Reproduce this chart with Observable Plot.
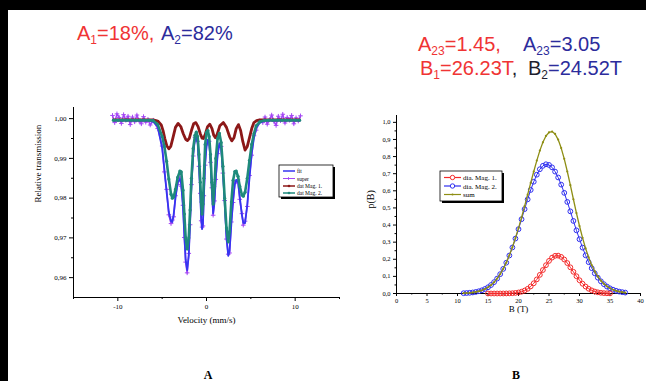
<!DOCTYPE html>
<html><head><meta charset="utf-8">
<script src="https://cdn.jsdelivr.net/npm/d3@7"></script>
<script src="https://cdn.jsdelivr.net/npm/@observablehq/plot@0.6"></script>
<style>
html,body{margin:0;padding:0;background:#fff;overflow:hidden;}
#wrap{position:relative;width:646px;height:381px;overflow:hidden;background:#fff;}
.abs{position:absolute;left:0;top:0;}
</style></head>
<body><div id="wrap">
<div id="plotA" class="abs"></div>
<div id="plotB" class="abs"></div>
<svg id="deco" class="abs" width="646" height="381" style="pointer-events:none"></svg>
</div>
<script>
// ---------- Panel A: Mössbauer spectrum ----------
const xTicksA = [-10, 0, 10];
const xMinorA = [-15, -5, 5, 15];
const yTicksA = [0.96, 0.97, 0.98, 0.99, 1.00];
const yMinorA = [0.965, 0.975, 0.985, 0.995];

// velocity grid shared by fit and dat Mag. 2
const velocity = [-10.5,-10,-9.5,-9,-8.5,-8,-7.5,-7,-6.5,
 -6.0,-5.5,-5.0,-4.75,-4.5,-4.25,-4.0,-3.85,-3.7,-3.5,-3.25,-3.0,-2.85,-2.65,-2.5,-2.35,-2.18,-2.0,-1.85,-1.7,-1.5,-1.3,-1.15,-1.0,-0.85,-0.7,-0.6,-0.5,-0.4,-0.3,-0.15,
 0.0,0.15,0.3,0.45,0.6,0.75,0.9,1.05,1.25,1.45,1.65,1.85,2.05,2.25,2.45,2.6,2.8,3.0,3.2,3.35,3.55,3.75,4.0,4.15,4.35,4.6,4.85,5.1,5.35,5.6,6.0,
 6.5,7,7.5,8,8.5,9,9.5,10,10.5];

const fitT = [0.9995,0.9995,0.9995,0.9995,0.9995,0.9995,0.9995,0.9995,0.9995,
 0.9992,0.9980,0.9925,0.9873,0.9815,0.9765,0.9742,0.9740,0.9760,0.9800,0.9840,0.9848,0.9836,0.9776,0.9708,0.9645,0.9619,0.9655,0.9740,0.9828,0.9912,0.9948,0.9954,0.9938,0.9886,0.9806,0.9749,0.9722,0.9736,0.9800,0.9889,
 0.9929,0.9947,0.9938,0.9896,0.9820,0.9762,0.9788,0.9853,0.9907,0.9938,0.9925,0.9869,0.9788,0.9703,0.9655,0.9667,0.9734,0.9795,0.9835,0.9846,0.9840,0.9803,0.9756,0.9738,0.9737,0.9784,0.9851,0.9913,0.9951,0.9977,0.9989,
 0.9995,0.9995,0.9995,0.9995,0.9995,0.9995,0.9995,0.9995,0.9995];

const mag2T = [0.9996,0.9996,0.9996,0.9996,0.9996,0.9996,0.9996,0.9996,0.9996,
 0.9995,0.9985,0.9955,0.9930,0.9893,0.9848,0.9810,0.9800,0.9803,0.9822,0.9852,0.9868,0.9866,0.9820,0.9760,0.9700,0.9672,0.9700,0.9770,0.9850,0.9925,0.9958,0.9966,0.9955,0.9910,0.9840,0.9790,0.9760,0.9785,0.9850,0.9935,
 0.9965,0.9970,0.9955,0.9910,0.9840,0.9785,0.9830,0.9900,0.9950,0.9963,0.9940,0.9880,0.9800,0.9725,0.9690,0.9715,0.9790,0.9845,0.9867,0.9868,0.9855,0.9830,0.9808,0.9805,0.9815,0.9850,0.9895,0.9935,0.9962,0.9982,0.9992,
 0.9995,0.9996,0.9996,0.9996,0.9996,0.9996,0.9996,0.9996,0.9996];

// measured points ("super")
const superVel = [-10.6,-10.35,-10.1,-9.85,-9.6,-9.35,-9.1,-8.85,-8.6,-8.35,-8.1,-7.85,-7.6,-7.35,-7.1,-6.85,-6.6,-6.35,
 -6.0,-5.5,-5.0,-4.75,-4.5,-4.25,-4.0,-3.85,-3.7,-3.5,-3.25,-3.0,-2.85,-2.65,-2.5,-2.35,-2.18,-2.0,-1.85,-1.7,-1.5,-1.3,-1.15,-1.0,-0.85,-0.7,-0.6,-0.5,-0.4,-0.3,-0.15,
 0.0,0.15,0.3,0.45,0.6,0.75,0.9,1.05,1.25,1.45,1.65,1.85,2.05,2.25,2.45,2.6,2.8,3.0,3.2,3.35,3.55,3.75,4.0,4.15,4.35,4.6,4.85,5.1,5.35,5.6,6.0,
 6.35,6.6,6.85,7.1,7.35,7.6,7.85,8.1,8.35,8.6,8.85,9.1,9.35,9.6,9.85,10.1,10.35,10.6];
const superT = [1.0008,0.9990,1.0012,1.0003,0.9988,1.0010,0.9996,1.0006,0.9985,1.0004,0.9992,1.0009,0.9994,0.9987,1.0005,0.9991,0.9998,0.9984,
 0.9996,0.9975,0.9931,0.9866,0.9822,0.9758,0.9736,0.9745,0.9753,0.9806,0.9834,0.9853,0.9830,0.9782,0.9701,0.9639,0.9612,0.9661,0.9733,0.9834,0.9906,0.9953,0.9949,0.9943,0.9880,0.9812,0.9743,0.9727,0.9730,0.9806,0.9883,
 0.9934,0.9941,0.9943,0.9890,0.9826,0.9757,0.9793,0.9847,0.9912,0.9933,0.9930,0.9863,0.9794,0.9697,0.9659,0.9662,0.9740,0.9789,0.9840,0.9841,0.9846,0.9797,0.9761,0.9732,0.9742,0.9779,0.9857,0.9908,0.9957,0.9971,0.9994,
 0.9990,1.0004,0.9986,0.9997,1.0009,0.9993,0.9983,1.0006,0.9995,1.0011,0.9989,1.0003,0.9996,1.0008,0.9987,1.0002,0.9994,1.0007];

// dat Mag. 1
const mag1Vel = [-10.5,-10,-9.5,-9,-8.5,-8,-7.5,-7,-6.5,
 -6.0,-5.5,-5.1,-4.9,-4.7,-4.48,-4.25,-4.03,-3.78,-3.5,-3.2,-2.9,-2.62,-2.35,-2.15,-1.95,-1.7,-1.45,-1.2,-0.95,-0.7,-0.5,-0.35,-0.15,
 0.12,0.37,0.62,0.82,1.0,1.2,1.5,1.9,2.25,2.6,2.85,3.1,3.35,3.6,3.85,4.1,4.35,4.6,4.85,5.1,5.35,5.65,6.0,
 6.5,7,7.5,8,8.5,9,9.5,10,10.5];
const mag1T = [0.9997,0.9997,0.9997,0.9997,0.9997,0.9997,0.9997,0.9997,0.9997,
 0.9997,0.9994,0.9984,0.9970,0.9950,0.9932,0.9924,0.9930,0.9952,0.9978,0.9988,0.9980,0.9962,0.9948,0.9945,0.9950,0.9970,0.9987,0.9990,0.9980,0.9962,0.9951,0.9950,0.9960,
 0.9980,0.9986,0.9975,0.9958,0.9952,0.9960,0.9982,0.9990,0.9978,0.9955,0.9944,0.9952,0.9975,0.9985,0.9970,0.9942,0.9921,0.9930,0.9952,0.9975,0.9990,0.9995,0.9997,
 0.9997,0.9997,0.9997,0.9997,0.9997,0.9997,0.9997,0.9997,0.9997];

// ---------- Panel B: field distributions ----------
const xTicksB = [0, 5, 10, 15, 20, 25, 30, 35, 40];
const xMinorB = [2.5, 7.5, 12.5, 17.5, 22.5, 27.5, 32.5, 37.5];
const yTicksB = [0, 0.1, 0.2, 0.3, 0.4, 0.5, 0.6, 0.7, 0.8, 0.9, 1.0];
const yMinorB = [0.05, 0.15, 0.25, 0.35, 0.45, 0.55, 0.65, 0.75, 0.85, 0.95];

const fieldB = [11,11.5,12,12.5,13,13.5,14,14.5,15,15.5,16,16.5,17,17.5,18,18.5,19,19.5,20,20.5,21,21.5,22,22.5,23,23.5,24,24.5,
 25,25.5,26,26.5,27,27.5,28,28.5,29,29.5,30,30.5,31,31.5,32,32.5,33,33.5,34,34.5,35,35.5,36,36.5,37,37.5];
const pMag2 = [0.0017,0.0027,0.0041,0.0061,0.0090,0.0131,0.0187,0.0264,0.0364,0.0495,0.0663,0.0872,0.113,0.1438,0.180,0.222,0.269,0.321,0.376,0.434,0.493,0.550,0.605,0.653,0.694,0.726,0.746,0.755,
 0.751,0.737,0.712,0.678,0.636,0.588,0.535,0.480,0.424,0.369,0.317,0.268,0.223,0.183,0.148,0.118,0.0925,0.0715,0.0544,0.0408,0.0302,0.022,0.0158,0.0112,0.0078,0.0053];
const pSum = [0.0017,0.0027,0.0041,0.0061,0.0090,0.0131,0.0187,0.0264,0.0364,0.0495,0.0663,0.0872,0.1131,0.1440,0.1804,0.2229,0.2707,0.3243,0.3820,0.4444,0.5103,0.5773,0.6463,0.7127,0.7765,0.8348,0.8832,0.9204,
 0.9414,0.9465,0.9322,0.8993,0.8498,0.7867,0.7128,0.6330,0.5507,0.4700,0.3945,0.3251,0.2636,0.2107,0.1662,0.1295,0.0995,0.0756,0.0567,0.0421,0.0309,0.0220,0.0158,0.0112,0.0078,0.0053];
const fieldB1 = [15,15.5,16,16.5,17,17.5,18,18.5,19,19.5,20,20.5,21,21.5,22,22.5,23,23.5,24,24.5,25,25.5,26,26.5,27,27.5,28,28.5,29,29.5,30,30.5,31,31.5,32,32.5,33,33.5,34,34.5,35];
const pMag1 = [0,0,0,0,0.0001,0.0002,0.0004,0.0009,0.0017,0.0033,0.0060,0.0104,0.0173,0.0273,0.0413,0.0597,0.0825,0.1088,0.1372,0.1654,0.1904,0.2095,0.2202,0.2213,0.2138,0.1987,0.1778,0.153,0.1267,0.101,0.0775,0.0571,0.0406,0.0277,0.0182,0.0115,0.0070,0.0041,0.0023,0.0013,0.0007];

// colours
const cFit = "#3535f0", cSuper = "#a447f5", cMag1 = "#8c1818", cMag2 = "#1f8a7c";
const cRed = "#f42a2a", cBlue = "#2f2ff0", cSum = "#8e8e14";

const rows = (xs, ys) => xs.map((x, i) => ({x, y: ys[i]}));
const fmt = (d, n) => d.toFixed(n).replace(".", ",");

const plotA = Plot.plot({
  width: 646, height: 381,
  marginLeft: 73, marginRight: 307, marginTop: 107, marginBottom: 84,
  style: {background: "transparent", fontFamily: "Liberation Serif, serif", fontSize: "7px", color: "#000"},
  x: {domain: [-15, 15]},
  y: {domain: [0.955, 1.0028]},
  marks: [
    Plot.ruleX([-15], {stroke: "#000", strokeWidth: 1}),
    Plot.ruleY([0.955], {stroke: "#000", strokeWidth: 1}),
    Plot.axisX({ticks: xTicksA, tickSize: 4, tickPadding: 3, tickFormat: d => String(d), label: null}),
    Plot.axisX({ticks: xMinorA, tickSize: 2, tickFormat: () => "", label: null}),
    Plot.axisY({ticks: yTicksA, tickSize: 4, tickPadding: 3, tickFormat: d => fmt(d, 2), label: null}),
    Plot.axisY({ticks: yMinorA, tickSize: 2, tickFormat: () => "", label: null}),
    Plot.line(rows(superVel, superT), {x: "x", y: "y", stroke: cSuper, strokeWidth: 1.6}),
    Plot.dot(rows(superVel, superT), {x: "x", y: "y", symbol: "plus", r: 1.6, stroke: cSuper, strokeWidth: 1}),
    Plot.line(rows(velocity, fitT), {x: "x", y: "y", stroke: cFit, strokeWidth: 1.8}),
    Plot.line(rows(mag1Vel, mag1T), {x: "x", y: "y", stroke: cMag1, strokeWidth: 2.8}),
    Plot.line(rows(velocity, mag2T), {x: "x", y: "y", stroke: cMag2, strokeWidth: 2.6}),
    Plot.dot(rows(velocity, mag2T), {x: "x", y: "y", r: 1.6, fill: cMag2}),
    Plot.text(["Relative transmission"], {frameAnchor: "left", dx: -35, rotate: -90, fontSize: 9}),
    Plot.text(["Velocity (mm/s)"], {frameAnchor: "bottom", dy: 25, fontSize: 9})
  ]
});
document.getElementById("plotA").appendChild(plotA);

const plotB = Plot.plot({
  width: 646, height: 381,
  marginLeft: 396, marginRight: 6, marginTop: 115, marginBottom: 88,
  style: {background: "transparent", fontFamily: "Liberation Serif, serif", fontSize: "6.5px", color: "#000"},
  x: {domain: [0, 40]},
  y: {domain: [0, 1.04]},
  marks: [
    Plot.ruleX([0], {stroke: "#000"}),
    Plot.ruleY([0], {stroke: "#000"}),
    Plot.axisX({ticks: xTicksB, tickSize: 3, tickPadding: 2, tickFormat: d => String(d), label: null}),
    Plot.axisX({ticks: xMinorB, tickSize: 1.5, tickFormat: () => "", label: null}),
    Plot.axisY({ticks: yTicksB, tickSize: 3, tickPadding: 3, tickFormat: d => fmt(d, 1), label: null}),
    Plot.axisY({ticks: yMinorB, tickSize: 1.5, tickFormat: () => "", label: null}),
    Plot.line(rows(fieldB, pMag2), {x: "x", y: "y", stroke: cBlue, strokeWidth: 1}),
    Plot.dot(rows(fieldB, pMag2), {x: "x", y: "y", r: 2.4, stroke: cBlue, strokeWidth: 1, fill: "none"}),
    Plot.line(rows(fieldB1, pMag1), {x: "x", y: "y", stroke: cRed, strokeWidth: 1}),
    Plot.dot(rows(fieldB1, pMag1), {x: "x", y: "y", r: 2.4, stroke: cRed, strokeWidth: 1, fill: "none"}),
    Plot.line(rows(fieldB, pSum), {x: "x", y: "y", stroke: cSum, strokeWidth: 1.3}),
    Plot.dot(rows(fieldB, pSum), {x: "x", y: "y", r: 1.1, fill: cSum}),
    Plot.text(["p(B)"], {frameAnchor: "left", dx: -26, dy: 4, rotate: -90, fontSize: 10}),
    Plot.text(["B (T)"], {frameAnchor: "bottom", dy: 18, fontSize: 9})
  ]
});
document.getElementById("plotB").appendChild(plotB);

// ---------- decorations: frame bars, titles, legends, panel letters ----------
const red = "#f03434", navy = "#2c2c9c", dark = "#1e1e2e";
const deco = document.getElementById("deco");
deco.innerHTML = `
<rect x="0" y="0" width="646" height="10" fill="#000"/>
<rect x="0" y="0" width="8" height="381" fill="#000"/>
<g font-family="Liberation Sans, Arial, sans-serif" font-size="20">
  <text x="77" y="40"><tspan fill="${red}">A</tspan><tspan fill="${red}" font-size="12" dy="4">1</tspan><tspan fill="${red}" dy="-4">=18%,</tspan></text>
  <text x="161" y="40"><tspan fill="${navy}">A</tspan><tspan fill="${navy}" font-size="12" dy="4">2</tspan><tspan fill="${navy}" dy="-4">=82%</tspan></text>
  <text x="418" y="51"><tspan fill="${red}">A</tspan><tspan fill="${red}" font-size="12" dy="4">23</tspan><tspan fill="${red}" dy="-4">=1.45,</tspan></text>
  <text x="523" y="51"><tspan fill="${navy}">A</tspan><tspan fill="${navy}" font-size="12" dy="4">23</tspan><tspan fill="${navy}" dy="-4">=3.05</tspan></text>
  <text x="420" y="75"><tspan fill="${red}">B</tspan><tspan fill="${red}" font-size="12" dy="4">1</tspan><tspan fill="${red}" dy="-4">=26.23T</tspan><tspan fill="${dark}">,</tspan></text>
  <text x="528" y="75"><tspan fill="${dark}">B</tspan><tspan fill="${dark}" font-size="12" dy="4">2</tspan><tspan fill="${navy}" dy="-4">=24.52T</tspan></text>
</g>
<g font-family="Liberation Serif, serif" font-weight="bold" font-size="12" text-anchor="middle" fill="#000">
  <text x="208" y="379">A</text>
  <text x="516" y="379">B</text>
</g>
<g font-family="Liberation Serif, serif" font-size="5.5">
  <rect x="281" y="167" width="54" height="32" fill="#000"/>
  <rect x="279" y="165" width="54" height="32" fill="#fff" stroke="#000" stroke-width="0.8"/>
  <line x1="283" x2="295" y1="171" y2="171" stroke="${cFit}" stroke-width="1.5"/>
  <text x="297" y="173">fit</text>
  <line x1="283" x2="295" y1="178.5" y2="178.5" stroke="${cSuper}" stroke-width="1"/>
  <path d="M287,178.5h3M288.5,177v3" stroke="${cSuper}" stroke-width="0.8"/>
  <text x="297" y="180.5">super</text>
  <line x1="283" x2="295" y1="186" y2="186" stroke="${cMag1}" stroke-width="1.5"/>
  <circle cx="289" cy="186" r="1.3" fill="${cMag1}"/>
  <text x="297" y="188">dat Mag. 1.</text>
  <line x1="283" x2="295" y1="193" y2="193" stroke="${cMag2}" stroke-width="1.5"/>
  <circle cx="289" cy="193" r="1.3" fill="${cMag2}"/>
  <text x="297" y="195">dat Mag. 2.</text>
</g>
<g font-family="Liberation Serif, serif" font-size="7">
  <rect x="442" y="173" width="62" height="30" fill="#000"/>
  <rect x="440" y="171" width="62" height="30" fill="#fff" stroke="#000" stroke-width="0.8"/>
  <line x1="444" x2="461" y1="177.5" y2="177.5" stroke="${cRed}" stroke-width="1.2"/>
  <circle cx="452.5" cy="177.5" r="2.2" fill="#fff" stroke="${cRed}" stroke-width="1"/>
  <text x="463" y="180">dia. Mag. 1.</text>
  <line x1="444" x2="461" y1="186" y2="186" stroke="${cBlue}" stroke-width="1.2"/>
  <circle cx="452.5" cy="186" r="2.2" fill="#fff" stroke="${cBlue}" stroke-width="1"/>
  <text x="463" y="188.5">dia. Mag. 2.</text>
  <line x1="444" x2="461" y1="194.5" y2="194.5" stroke="${cSum}" stroke-width="1.2"/>
  <circle cx="452.5" cy="194.5" r="1" fill="${cSum}"/>
  <text x="463" y="197">sum</text>
</g>`;
</script>
</body></html>
